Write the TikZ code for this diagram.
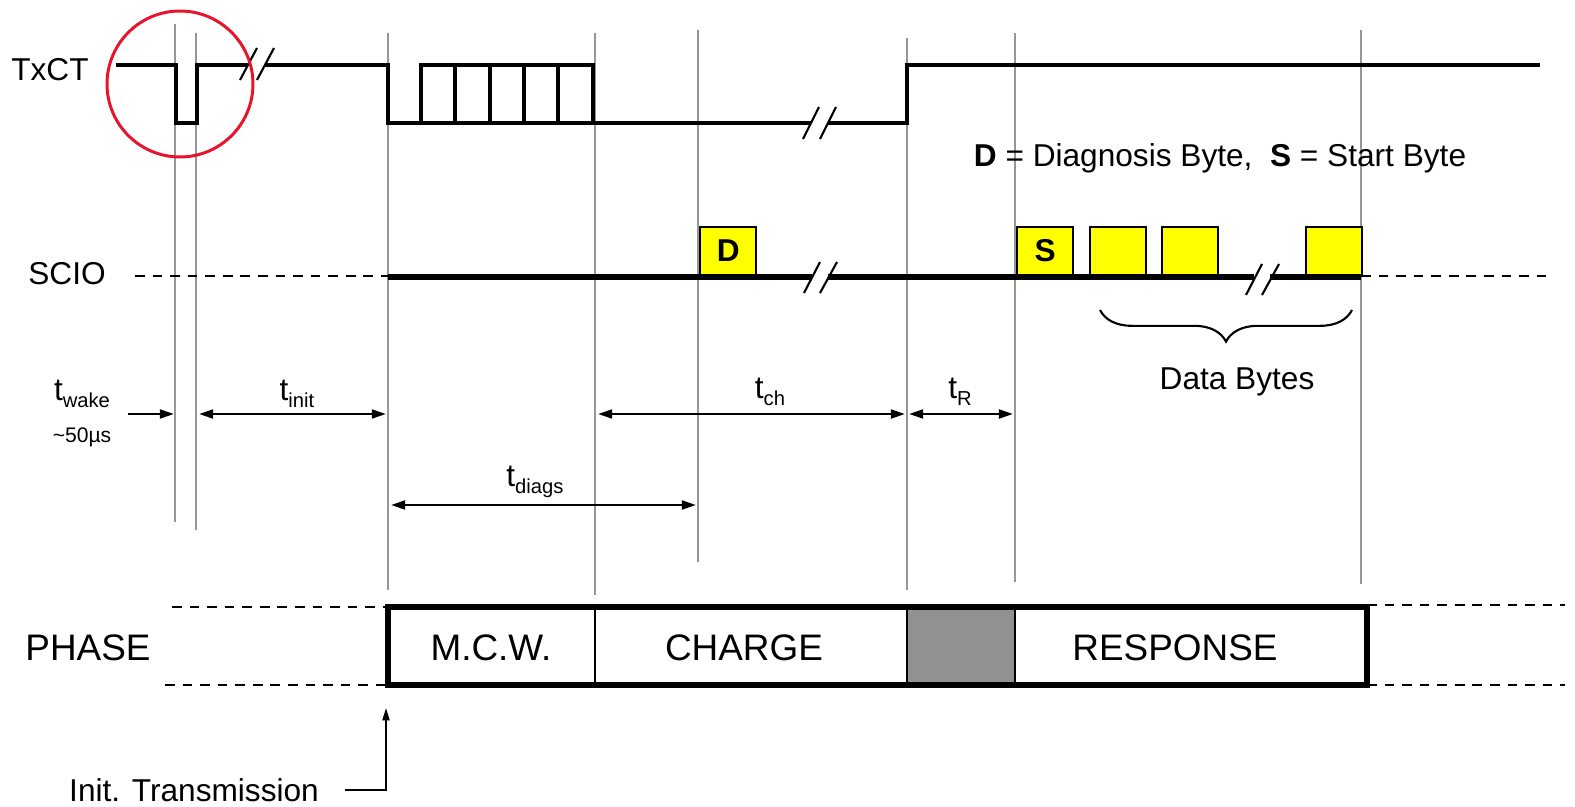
\documentclass[tikz,border=0pt]{standalone}
\usepackage{fontspec}
\setmainfont{Liberation Sans}
\usepackage{xcolor}
\usepackage{tikz}
\usetikzlibrary{arrows.meta, positioning, decorations.pathreplacing}
\definecolor{byteyellow}{RGB}{255, 255, 0}
\definecolor{guidegray}{RGB}{150, 150, 150}
\definecolor{phasegray}{RGB}{145, 145, 145}
\definecolor{markred}{RGB}{232, 20, 45}
\newcommand{\tlbl}[1]{t\raisebox{-0.45ex}{\fontsize{11.5}{12}\selectfont #1}}

\begin{document}
\begin{tikzpicture}[x=0.02cm, y=-0.02cm,
        signal/.style={line width=2.6pt, line join=miter},
        guide/.style={draw=guidegray, line width=1.1pt},
        brk/.style={line width=1.2pt},
        dashline/.style={dash pattern=on 5.5pt off 4.5pt, line width=1.1pt},
        span/.style={{Triangle[length=8pt,width=5pt]}-{Triangle[length=8pt,width=5pt]}, line width=1.4pt},
        bytebox/.style={rectangle, draw, line width=1.4pt, fill=byteyellow, minimum width=1.12cm, minimum height=0.96cm, anchor=south west, inner sep=0pt, font=\bfseries\fontsize{18}{20}\selectfont},
        lbl/.style={font=\fontsize{18}{20}\selectfont},
        phaselbl/.style={font=\fontsize{21}{24}\selectfont},
        small/.style={font=\fontsize{12}{14}\selectfont}
    ]
        \useasboundingbox (0,0) rectangle (1575,807);

        % guide lines
        \foreach \gx/\gt/\gb in {175/24/522, 196/33/530, 388/33/590, 595/33/595, 698/30/562, 907/38/590, 1015/33/582, 1361/30/584}
            \draw[guide] (\gx,\gt) -- (\gx,\gb);

        % TxCT
        \node[lbl] (txct) at (50,70) {TxCT};
        \draw[signal] (116,65) -- (176,65) -- (176,123) -- (197,123) -- (197,65) -- (248,65);
        \draw[signal] (265,65) -- (388,65) -- (388,123) -- (811,123);
        \draw[signal] (421,123) -- (421,65) -- (593,65) -- (593,123);
        \foreach \px in {455,490,524,558}
            \draw[signal] (\px,65) -- (\px,123);
        \draw[signal] (828,123) -- (907,123) -- (907,65) -- (1540,65);
        \draw[brk] (240,80) -- (257,48);
        \draw[brk] (257,80) -- (274,48);
        \draw[brk] (803,139) -- (819,107);
        \draw[brk] (820,139) -- (836,107);
        \draw[markred, line width=1.7pt] (180,84) circle [radius=1.46cm];

        \node[lbl] (legend) at (1220,158) {{\bfseries D} = Diagnosis Byte,\ \ {\bfseries S} = Start Byte};

        % SCIO
        \node[lbl] (scio) at (67,274) {SCIO};
        \draw[dashline] (135,276) -- (388,276);
        \draw[dashline] (1361,276) -- (1552,276);
        \draw[signal, line width=3pt] (388,277) -- (812,277);
        \draw[signal, line width=3pt] (828,277) -- (1254,277);
        \draw[signal, line width=3pt] (1270,277) -- (1361,277);
        \draw[brk] (804,293) -- (820,262);
        \draw[brk] (820,293) -- (837,262);
        \draw[brk] (1246,295) -- (1262,264);
        \draw[brk] (1262,295) -- (1279,264);
        \node[bytebox] (bd) at (699,276) {D};
        \node[bytebox] (bs) at (1016,276) {S};
        \node[bytebox] (b2) at (1089,276) {};
        \node[bytebox] (b3) at (1161,276) {};
        \node[bytebox] (b4) at (1305,276) {};
        \draw[decorate, decoration={brace, mirror, amplitude=18pt}, line width=1.2pt] (1100,310) -- (1352,310);
        \node[lbl] (data) at (1237,382) {Data Bytes};

        % timings
        \node[lbl] (twake) at (82,394) {\tlbl{wake}};
        \node[small] (wake50) at (82,437) {\textasciitilde50µs};
        \coordinate (wakeA) at (128,414);
        \coordinate (wakeB) at (174,414);
        \draw[-{Triangle[length=8pt,width=5pt]}, line width=1.4pt] (wakeA) -- (wakeB);
        \node[lbl] (tinit) at (297,394) {\tlbl{init}};
        \draw[span] (199,414) -- (386,414);
        \node[lbl] (tch) at (770,392) {\tlbl{ch}};
        \draw[span] (598,414) -- (905,414);
        \node[lbl] (tr) at (960,392) {\tlbl{R}};
        \draw[span] (909,414) -- (1013,414);
        \node[lbl] (tdiag) at (535,482) {\tlbl{diags}};
        \draw[span] (391,505) -- (696,505);

        % phase row
        \node[phaselbl] (phase) at (88,648) {PHASE};
        \draw[dashline] (172,607) -- (388,607);
        \draw[dashline] (165,685) -- (388,685);
        \draw[dashline] (1367,605) -- (1565,605);
        \draw[dashline] (1367,685) -- (1565,685);
        \fill[phasegray] (907,607) rectangle (1015,685);
        \draw[line width=1.4pt] (595,607) -- (595,685);
        \draw[line width=1.4pt] (907,607) -- (907,685);
        \draw[line width=1.4pt] (1015,607) -- (1015,685);
        \draw[line width=3pt] (388,607) rectangle (1367,685);
        \node[phaselbl] (mcw) at (491,648) {M.C.W.};
        \node[phaselbl] (charge) at (744,648) {CHARGE};
        \node[phaselbl] (resp) at (1175,648) {RESPONSE};

        % init transmission
        \node[lbl] (init) at (194,790) {Init. Transmission};
        \coordinate (initTip) at (386,708);
        \draw[-{Triangle[length=7pt,width=4pt]}, line width=1.1pt] ([xshift=0.4cm]init.east) -| (initTip);
    \end{tikzpicture}
\end{document}
